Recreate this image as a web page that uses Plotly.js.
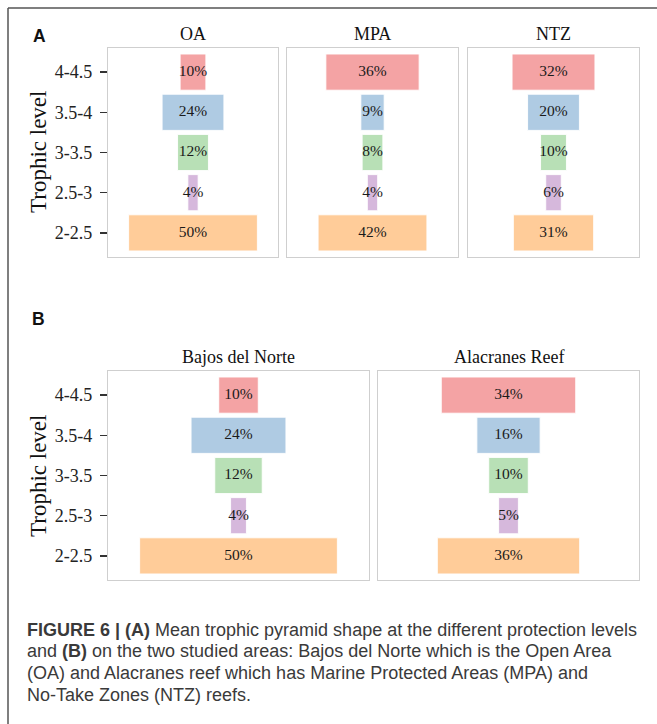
<!DOCTYPE html>
<html><head><meta charset="utf-8">
<script src="https://cdn.plot.ly/plotly-3.0.1.min.js"></script>
<style>html,body{margin:0;padding:0;background:#fff;}#chart{width:657px;height:724px;}</style>
</head><body><div id="chart"></div>
<script>
// ---- data ----
const levels = ["4-4.5", "3.5-4", "3-3.5", "2.5-3", "2-2.5"];
const levelColors = ["rgb(244,163,164)", "rgb(175,203,227)", "rgb(184,224,182)", "rgb(214,184,220)", "rgb(255,204,153)"];
const panelANames = ["OA", "MPA", "NTZ"];
const oaValues = [10, 24, 12, 4, 50];
const mpaValues = [36, 9, 8, 4, 42];
const ntzValues = [32, 20, 10, 6, 31];
const panelBNames = ["Bajos del Norte", "Alacranes Reef"];
const bajosValues = [10, 24, 12, 4, 50];
const alacranesValues = [34, 16, 10, 5, 36];
const yTitle = "Trophic level";
const captionLines = [
  "<b>FIGURE 6 | (A)</b> Mean trophic pyramid shape at the different protection levels",
  "and <b>(B)</b> on the two studied areas: Bajos del Norte which is the Open Area",
  "(OA) and Alacranes reef which has Marine Protected Areas (MPA) and",
  "No-Take Zones (NTZ) reefs."
];

// ---- layout helpers (pixel -> paper) ----
const W = 657, H = 724;
const px = x => x / W;
const py = y => 1 - y / H;
const SERIF = "Liberation Serif, Times New Roman, serif";
const SANS = "Liberation Sans, Arial, sans-serif";

const panels = [
  {name: panelANames[0], values: oaValues,       x0: 108, x1: 278, y0: 48,  y1: 257, first: true},
  {name: panelANames[1], values: mpaValues,      x0: 287, x1: 458, y0: 48,  y1: 257, first: false},
  {name: panelANames[2], values: ntzValues,      x0: 468, x1: 639, y0: 48,  y1: 257, first: false},
  {name: panelBNames[0], values: bajosValues,    x0: 108, x1: 369, y0: 371, y1: 580, first: true},
  {name: panelBNames[1], values: alacranesValues,x0: 378, x1: 639, y0: 371, y1: 580, first: false}
];

const traces = [];
const layout = {
  width: W, height: H,
  margin: {l: 0, r: 0, t: 0, b: 0},
  paper_bgcolor: "#ffffff", plot_bgcolor: "#ffffff",
  showlegend: false,
  annotations: [], shapes: []
};

panels.forEach((p, i) => {
  const k = i === 0 ? "" : String(i + 1);
  traces.push({
    type: "bar", orientation: "h",
    x: p.values, base: p.values.map(v => -v / 2), y: levels,
    width: 0.9,
    marker: {color: levelColors, line: {color: "rgba(255,255,255,0.9)", width: 1}},
    xaxis: "x" + k, yaxis: "y" + k, hoverinfo: "skip"
  });
  traces.push({
    type: "scatter", mode: "text",
    x: p.values.map(() => 0), y: levels,
    text: p.values.map(v => v + "%"),
    textposition: "middle center",
    textfont: {family: SERIF, size: 15.5, color: "#1a1a1a"},
    xaxis: "x" + k, yaxis: "y" + k, hoverinfo: "skip", cliponaxis: false
  });
  layout["xaxis" + k] = {
    domain: [px(p.x0), px(p.x1)], anchor: "y" + k,
    range: [-33, 33], showgrid: false, zeroline: false,
    showticklabels: false, ticks: "",
    showline: true, mirror: true, linecolor: "#cfcfcf", linewidth: 1.2, fixedrange: true
  };
  layout["yaxis" + k] = {
    domain: [py(p.y1), py(p.y0)], anchor: "x" + k,
    type: "category", categoryarray: levels, categoryorder: "array",
    range: [4.6, -0.6], showgrid: false, zeroline: false,
    showline: true, mirror: true, linecolor: "#cfcfcf", linewidth: 1.2,
    ticks: p.first ? "outside" : "", ticklen: 7, tickwidth: 1.5, tickcolor: "#333333",
    showticklabels: p.first, ticklabelstandoff: 4,
    tickfont: {family: SERIF, size: 18, color: "#222222"}, fixedrange: true
  };
  layout.annotations.push({
    text: p.name, xref: "paper", yref: "paper",
    x: px((p.x0 + p.x1) / 2), y: py(p.y0 - 14), xanchor: "center", yanchor: "middle",
    showarrow: false, font: {family: SERIF, size: 18, color: "#111111"}
  });
});

// y titles
[[38, 152], [38, 476]].forEach(([x, y]) => {
  layout.annotations.push({
    text: yTitle, xref: "paper", yref: "paper", x: px(x), y: py(y),
    xanchor: "center", yanchor: "middle", textangle: -90, showarrow: false,
    font: {family: SERIF, size: 23, color: "#111111"}
  });
});
// panel letters
[["A", 31, 35.5], ["B", 30, 319]].forEach(([t, x, y]) => {
  layout.annotations.push({
    text: "<b>" + t + "</b>", xref: "paper", yref: "paper", x: px(x), y: py(y),
    xanchor: "left", yanchor: "middle", showarrow: false,
    font: {family: SANS, size: 17.5, color: "#111111"}
  });
});
// caption
captionLines.forEach((line, j) => {
  layout.annotations.push({
    text: line, xref: "paper", yref: "paper", x: px(26), y: py(629.5 + j * 21.7),
    xanchor: "left", yanchor: "middle", align: "left", showarrow: false, borderpad: 0,
    font: {family: SANS, size: 18, color: "#3a3a3a"}
  });
});
// outer frame
layout.shapes.push(
  {type: "line", xref: "paper", yref: "paper", x0: px(8), x1: px(657), y0: py(8), y1: py(8), line: {color: "#555555", width: 1.5}},
  {type: "line", xref: "paper", yref: "paper", x0: px(8), x1: px(8), y0: py(8), y1: py(724), line: {color: "#555555", width: 1.5}}
);

Plotly.newPlot("chart", traces, layout, {displayModeBar: false, staticPlot: true});
</script></body></html>
